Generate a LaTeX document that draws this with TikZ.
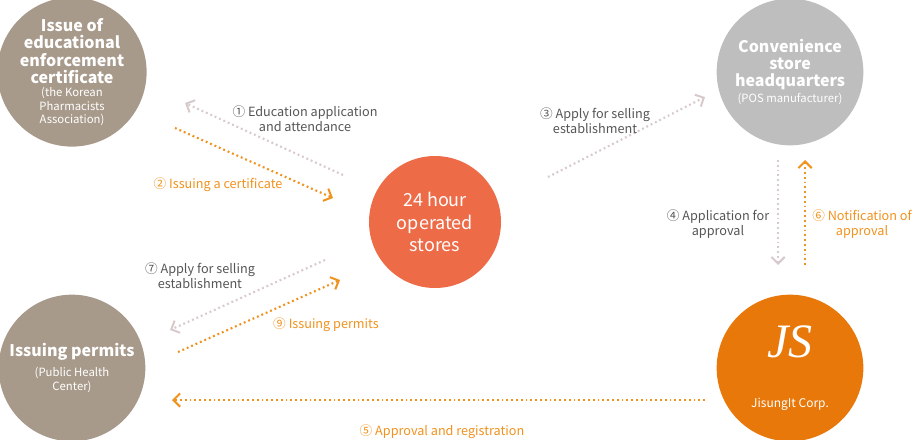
\documentclass[tikz,border=0pt]{standalone}
\usepackage{fontspec}
\setmainfont{Noto Sans CJK KR}
\newfontfamily\jsfont{Liberation Serif}
\usetikzlibrary{arrows.meta}
\definecolor{taupe}{HTML}{A89A8B}
\definecolor{silver}{HTML}{BEBEBE}
\definecolor{coral}{HTML}{EE6B47}
\definecolor{amber}{HTML}{E8780A}
\definecolor{flow}{HTML}{F0921E}
\definecolor{mist}{HTML}{D8CACA}
\definecolor{ink}{HTML}{555555}
\newcommand\subtext{\mdseries\fontsize{8.5}{9.5}\selectfont}
\tikzset{>={Straight Barb[length=5pt,width=10pt,line width=1.5pt]},
  party/.style={circle, minimum size=110pt, inner sep=0pt, text=white,
    align=center, font={\bfseries\fontsize{12}{13}\selectfont}},
  ask/.style={draw=mist, line width=1.6pt, dash pattern=on 1.4pt off 2.2pt, ->},
  give/.style={draw=flow, line width=1.6pt, dash pattern=on 1.4pt off 2.2pt, ->},
  asklabel/.style={text=ink, align=center, font={\fontsize{9.5}{11}\selectfont}},
  givelabel/.style={text=flow, align=center, font={\fontsize{9.5}{11}\selectfont}},
}
\begin{document}
\begin{tikzpicture}[x=0.75pt,y=-0.75pt]
  \useasboundingbox (0,0) rectangle (913,439);
  % parties
  \node [party, fill=taupe] (assoc) at (72,72)
    {Issue of\\educational\\enforcement\\certificate\\[-3pt]\subtext (the Korean\\[-3pt]\subtext Pharmacists\\[-3pt]\subtext Association)};
  \node [party, fill=coral, minimum size=99pt, font={\fontsize{13.5}{17}\selectfont}] (store) at (435,222)
    {24 hour\\operated\\stores};
  \node [party, fill=silver] (hq) at (790,72)
    {Convenience\\store\\headquarters\\[-1pt]\subtext (POS manufacturer)};
  \node [party, fill=taupe] (health) at (72,368)
    {Issuing permits\\[2pt]\subtext (Public Health\\[-3pt]\subtext Center)};
  \node [party, fill=amber, font={\jsfont\itshape\fontsize{36}{36}\selectfont}] (js) at (790,368)
    {JS\\[2pt]\normalfont\fontsize{9}{10}\selectfont JisungIt Corp.};
  % connector ends
  \coordinate (a1) at (343,175); \coordinate (b1) at (185,103);
  \coordinate (a2) at (175,128); \coordinate (b2) at (333,198);
  \coordinate (a3) at (548,177); \coordinate (b3) at (705,97);
  \coordinate (a4) at (778,160); \coordinate (b4) at (778,265);
  \coordinate (a6) at (805,265); \coordinate (b6) at (805,160);
  \coordinate (a7) at (325,260); \coordinate (b7) at (170,330);
  \coordinate (a9) at (178,352); \coordinate (b9) at (340,280);
  \coordinate (a5) at (705,400); \coordinate (b5) at (172,400);
  \draw [ask] (a1) -- (b1);
  \draw [give] (a2) -- (b2);
  \draw [ask] (a3) -- (b3);
  \draw [ask] (a4) -- (b4);
  \draw [give] (a6) -- (b6);
  \draw [ask] (a7) -- (b7);
  \draw [give] (a9) -- (b9);
  \draw [give] (a5) -- (b5);
  % labels
  \node [asklabel] (l1) at (305,119) {① Education application\\and attendance};
  \node [givelabel] (l2) at (218,185) {② Issuing a certificate};
  \node [asklabel] (l3) at (595,121) {③ Apply for selling\\establishment};
  \node [asklabel] (l4) at (718,224) {④ Application for\\approval};
  \node [givelabel] (l6) at (862,224) {⑥ Notification of\\approval};
  \node [asklabel] (l7) at (200,276) {⑦ Apply for selling\\establishment};
  \node [givelabel] (l9) at (326,325) {⑨ Issuing permits};
  \node [givelabel] (l5) at (442,432) {⑤ Approval and registration};
\end{tikzpicture}
\end{document}
